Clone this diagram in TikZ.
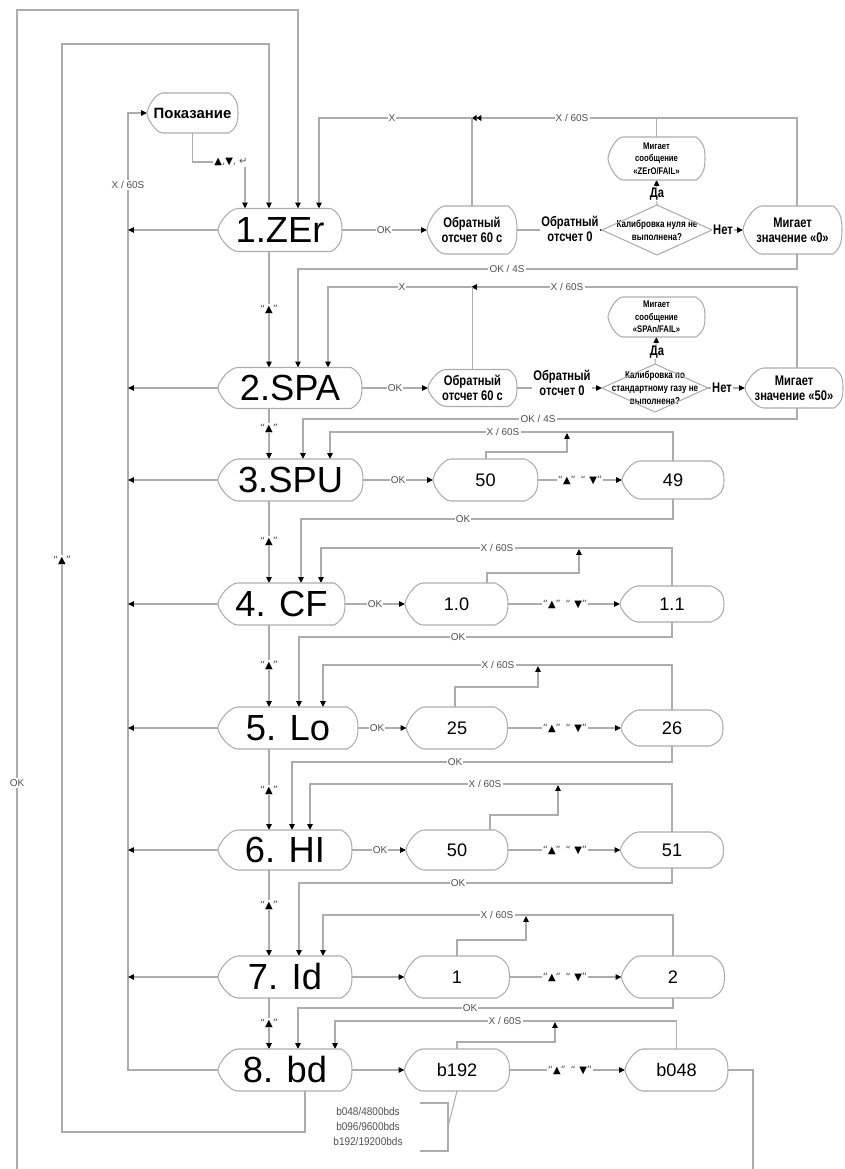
\documentclass[tikz,border=0pt]{standalone}
\usepackage{fontspec}
\setmainfont{Liberation Sans}
\newfontfamily\nb{Liberation Sans}[FakeStretch=0.8]
\newfontfamily\nr{Liberation Sans}[FakeStretch=0.9]
\newfontfamily\sym{DejaVu Sans}
\usetikzlibrary{arrows.meta,calc}
\definecolor{lc}{RGB}{172,172,172}
\definecolor{lt}{RGB}{80,80,80}
\newcommand\shp[5]{%
 \draw[shpl, shift={(#1.center)}]
  ({-#2/2+#4},{-#3/2}) -- ({#2/2-#5},{-#3/2})
  .. controls ({#2/2-0.3*#5},{-0.4*#3}) and ({#2/2},{-0.28*#3}) .. ({#2/2},0)
  .. controls ({#2/2},{0.28*#3}) and ({#2/2-0.3*#5},{0.4*#3}) .. ({#2/2-#5},{#3/2})
  -- ({-#2/2+#4},{#3/2})
  .. controls ({-#2/2+0.55*#4},{#3/2}) and ({-#2/2},{0.14*#3}) .. ({-#2/2},0)
  .. controls ({-#2/2},{-0.14*#3}) and ({-#2/2+0.55*#4},{-#3/2}) .. cycle;}
\newcommand\tri{{\color{lt}“}▲{\color{lt}”}}
\newcommand\updown{{\color{lt}“}▲{\color{lt}”\hspace{4pt}“}\hspace{3pt}▼{\color{lt}”}}
\begin{document}
\begin{tikzpicture}[
 x=0.3mm, y=-0.3mm,
 ln/.style={draw=lc, line width=0.9pt},
 shpl/.style={draw=lc, line width=0.9pt},
 arr/.style={-{Triangle[length=5pt,width=4.6pt,color=black]}},
 arrd/.style={-{Triangle[length=4pt,width=5pt,color=black]Triangle[length=4pt,width=5pt,color=black]}},
 wh/.style 2 args={minimum width=#1*0.3mm, minimum height=#2*0.3mm},
 box/.style={draw=none, inner sep=0pt, outer sep=0pt, align=center},
 mainbox/.style={box, font=\fontsize{31}{31}\selectfont},
 valbox/.style={box, font=\fontsize{15.5}{15.5}\selectfont},
 obox/.style={box, font=\nb\bfseries\fontsize{11.9}{13}\selectfont},
 mbox/.style={box, font=\nb\bfseries\fontsize{8.2}{10.8}\selectfont},
 dbox/.style={box, font=\nb\bfseries\fontsize{8.6}{11}\selectfont},
 pbox/.style={box, font=\bfseries\fontsize{12.7}{13}\selectfont},
 lab/.style={fill=white, inner sep=1pt, text=lt, font=\fontsize{8.5}{8.5}\selectfont},
 blab/.style={fill=white, inner sep=1pt, align=center, font=\nb\bfseries\fontsize{11.9}{13}\selectfont},
 tlab/.style={fill=white, inner sep=1pt, font=\sym\fontsize{8.5}{8.5}\selectfont},
 baud/.style={align=center, inner sep=0pt, text=lt, font=\nr\fontsize{9.5}{12.8}\selectfont}
]
\useasboundingbox (0,0) rectangle (844,1169);

% ---------- main nodes
\node[mainbox, wh={124}{43}] (zer) at (280,230) {1.ZEr};
\node[mainbox, wh={144}{41}] (spa) at (290,388) {2.SPA};
\node[mainbox, wh={145}{42}] (spu) at (290.5,480) {3.SPU};
\node[mainbox, wh={127}{42}] (cf) at (281.5,604) {4. CF};
\node[mainbox, wh={140}{42}] (lo) at (288,728) {5. Lo};
\node[mainbox, wh={134}{40}] (hi) at (285,850) {6. HI};
\node[mainbox, wh={134}{42}] (id) at (285,977) {7. Id};
\node[mainbox, wh={134}{42}] (bd) at (285,1070) {8. bd};

% ---------- value nodes
\node[valbox, wh={105}{42}] (v3a) at (485.5,480) {50};
\node[valbox, wh={102}{38}] (v3b) at (673,480) {49};
\node[valbox, wh={103}{42}] (v4a) at (456.5,604) {1.0};
\node[valbox, wh={104}{36}] (v4b) at (672,604) {1.1};
\node[valbox, wh={101}{42}] (v5a) at (457,728) {25};
\node[valbox, wh={102}{36}] (v5b) at (672,728) {26};
\node[valbox, wh={102}{40}] (v6a) at (457,850) {50};
\node[valbox, wh={103}{36}] (v6b) at (672,850) {51};
\node[valbox, wh={105}{42}] (v7a) at (457,977) {1};
\node[valbox, wh={103}{42}] (v7b) at (673,977) {2};
\node[valbox, wh={105}{42}] (v8a) at (457,1070) {b192};
\node[valbox, wh={103}{42}] (v8b) at (676.5,1070) {b048};

% ---------- top rows
\node[pbox, wh={91}{40}] (pok) at (192.5,113) {Показание};
\node[obox, wh={90}{48}] (ob1) at (472,230) {Обратный\\отсчет 60 с};
\node[dbox, wh={110}{50}] (d1) at (657,230) {Калибровка нуля не\\выполнена?};
\node[mbox, wh={97}{43}] (m1) at (656.5,158.5) {Мигает\\сообщение\\«ZErO/FAIL»};
\node[obox, wh={99}{48}] (f1) at (792.5,230) {Мигает\\значение «0»};

\node[obox, wh={89}{37}] (ob2) at (472.5,388) {Обратный\\отсчет 60 с};
\node[dbox, wh={106}{48}] (d2) at (655,388) {Калибровка по\\стандартному газу не\\выполнена?};
\node[mbox, wh={97}{40}] (m2) at (656.5,317) {Мигает\\сообщение\\«SPAn/FAIL»};
\node[obox, wh={98}{40}] (f2) at (794,388) {Мигает\\значение «50»};

\node[baud] (bds) at (368,1127) {b048/4800bds\\b096/9600bds\\b192/19200bds};

% ---------- free ends
\coordinate (bl) at (17,1169);
\coordinate (br) at (753,1169);
\coordinate (j1) at (472,118);
\coordinate (j2) at (471,287);
\coordinate (u3) at (567,433);
\coordinate (u4) at (579,549);
\coordinate (u5) at (538,666);
\coordinate (u6) at (558,785);
\coordinate (u7) at (526,916);
\coordinate (u8) at (555,1022);

% ---------- outer loops
\draw[ln,arr] (bl) -- (17,10) -- (298,10) -- (zer.north -| 298,0);
\draw[ln] (v8b.east) -| (br);
\draw[ln,arr] (bd.south -| 305,0) -- (305,1132) -- (62,1132) -- (62,44) -- (269,44) -- (zer.north -| 269,0);
\draw[ln,arr] (bd.west) -| (128,113) -- (pok.west);
\foreach \n in {zer,spa,spu,cf,lo,hi,id} \draw[ln,arr] (\n.west) -- (\n.west -| 128,0);
\draw[ln,arr] (pok.south) |- (245,162) -- (zer.north -| 245,0);

% ---------- main chain
\foreach \a/\b in {zer/spa,spa/spu,spu/cf,cf/lo,lo/hi,hi/id,id/bd}
  \draw[ln,arr] (\a.south -| 269,0) -- (\b.north -| 269,0);

% ---------- row 1
\draw[ln,arr] (zer.east) -- (ob1.west);
\draw[ln,arr] (ob1.east) -- (d1.west);
\draw[ln,arr] (d1.east) -- (f1.west);
\draw[ln,arr] (d1.north) -- (m1.south);
\draw[ln,arrd] (f1.north -| 797,0) |- (j1);
\draw[ln] (ob1.north) -- (ob1.north |- j1);
\draw[ln] (m1.north) -- (m1.north |- j1);
\draw[ln,arr] (j1) -| (zer.north -| 319,0);
\draw[ln,arr] (f1.south -| 797,0) |- (298,269) -- (spa.north -| 298,0);

% ---------- row 2
\draw[ln,arr] (spa.east) -- (ob2.west);
\draw[ln,arr] (ob2.east) -- (d2.west);
\draw[ln,arr] (d2.east) -- (f2.west);
\draw[ln,arr] (d2.north) -- (m2.south);
\draw[ln,arr] (f2.north -| 797,0) |- (j2);
\draw[ln] (ob2.north) -- (ob2.north |- j2);
\draw[ln,arr] (j2) -| (spa.north -| 328,0);
\draw[ln,arr] (f2.south -| 797,0) |- (303,419) -- (spu.north -| 303,0);

% ---------- row 3
\draw[ln,arr] (spu.east) -- (v3a.west);
\draw[ln,arr] (v3a.east) -- (v3b.west);
\draw[ln,arr] (v3a.north -| 486,0) |- (567,452) -- (u3);
\draw[ln,arr] (v3b.north) |- (330,432) -- (spu.north -| 330,0);
\draw[ln,arr] (v3b.south) |- (301,519) -- (cf.north -| 301,0);

% ---------- row 4
\draw[ln,arr] (cf.east) -- (v4a.west);
\draw[ln,arr] (v4a.east) -- (v4b.west);
\draw[ln,arr] (v4a.north -| 487,0) |- (579,573) -- (u4);
\draw[ln,arr] (v4b.north) |- (321,548) -- (cf.north -| 321,0);
\draw[ln,arr] (v4b.south) |- (299,637) -- (lo.north -| 299,0);

% ---------- row 5
\draw[ln,arr] (lo.east) -- (v5a.west);
\draw[ln,arr] (v5a.east) -- (v5b.west);
\draw[ln,arr] (v5a.north -| 455,0) |- (538,687) -- (u5);
\draw[ln,arr] (v5b.north) |- (323,665) -- (lo.north -| 323,0);
\draw[ln,arr] (v5b.south) |- (292,762) -- (hi.north -| 292,0);

% ---------- row 6
\draw[ln,arr] (hi.east) -- (v6a.west);
\draw[ln,arr] (v6a.east) -- (v6b.west);
\draw[ln,arr] (v6a.north -| 490,0) |- (558,815) -- (u6);
\draw[ln,arr] (v6b.north) |- (310,784) -- (hi.north -| 310,0);
\draw[ln,arr] (v6b.south) |- (299,883) -- (id.north -| 299,0);

% ---------- row 7
\draw[ln,arr] (id.east) -- (v7a.west);
\draw[ln,arr] (v7a.east) -- (v7b.west);
\draw[ln,arr] (v7a.north) |- (526,940) -- (u7);
\draw[ln,arr] (v7b.north) |- (323,915) -- (id.north -| 323,0);
\draw[ln,arr] (v7b.south) |- (298,1008) -- (bd.north -| 298,0);

% ---------- row 8
\draw[ln,arr] (bd.east) -- (v8a.west);
\draw[ln,arr] (v8a.east) -- (v8b.west);
\draw[ln,arr] (v8a.north) |- (555,1042) -- (u8);
\draw[ln,arr] (v8b.north) |- (335,1021) -- (bd.north -| 335,0);
\draw[ln] (v8a.south) -- (448,1127);
\draw[ln] (420,1103) -| (448,1151) -- (420,1151);

% ---------- outlines
\shp{zer}{124}{43}{20}{11}
\shp{spa}{144}{41}{20}{11}
\shp{spu}{145}{42}{20}{11}
\shp{cf}{127}{42}{20}{11}
\shp{lo}{140}{42}{20}{11}
\shp{hi}{134}{40}{20}{11}
\shp{id}{134}{42}{20}{11}
\shp{bd}{134}{42}{20}{11}
\shp{v3a}{105}{42}{18}{13}
\shp{v3b}{102}{38}{18}{13}
\shp{v4a}{103}{42}{18}{13}
\shp{v4b}{104}{36}{18}{13}
\shp{v5a}{101}{42}{18}{13}
\shp{v5b}{102}{36}{18}{13}
\shp{v6a}{102}{40}{18}{13}
\shp{v6b}{103}{36}{18}{13}
\shp{v7a}{105}{42}{18}{13}
\shp{v7b}{103}{42}{18}{13}
\shp{v8a}{105}{42}{18}{13}
\shp{v8b}{103}{42}{18}{13}
\shp{pok}{91}{40}{16}{9}
\shp{ob1}{90}{48}{18}{9}
\shp{ob2}{89}{37}{18}{9}
\shp{m1}{97}{43}{15}{9}
\shp{m2}{97}{40}{15}{9}
\shp{f1}{99}{48}{19}{9}
\shp{f2}{98}{40}{19}{9}
\draw[shpl] (d1.north) -- (d1.east) -- (d1.south) -- (d1.west) -- cycle;
\draw[shpl] (d2.north) -- (d2.east) -- (d2.south) -- (d2.west) -- cycle;

% ---------- labels
\node[lab] at (17,783) {OK};
\node[tlab] at (62,560) {\tri};
\node[lab] at (128,185) {X / 60S};
\node[tlab, anchor=east] at (249,162) {▲{\color{lt},}▼{\color{lt}, ↵}};
\foreach \y in {309,428,541,665,790,905,1023} \node[tlab] at (269,\y) {\tri};

\node[lab] at (384,230) {OK};
\node[blab] at (570,229) {Обратный\\отсчет 0};
\node[blab] at (723,230) {Нет};
\node[blab] at (657,194) {Да};
\node[lab] at (572,118) {X / 60S};
\node[lab] at (392,118) {X};
\node[lab] at (507,269) {OK / 4S};

\node[lab] at (395,388) {OK};
\node[blab] at (562,383) {Обратный\\отсчет 0};
\node[blab] at (722,388) {Нет};
\node[blab] at (657,352) {Да};
\node[lab] at (567,287) {X / 60S};
\node[lab] at (402,287) {X};
\node[lab] at (538,419) {OK / 4S};

\node[lab] at (398,480) {OK};
\node[tlab] at (580,480) {\updown};
\node[lab] at (503,432) {X / 60S};
\node[lab] at (463,519) {OK};

\node[lab] at (375,604) {OK};
\node[tlab] at (565,604) {\updown};
\node[lab] at (497,548) {X / 60S};
\node[lab] at (458,637) {OK};

\node[lab] at (377,728) {OK};
\node[tlab] at (565,728) {\updown};
\node[lab] at (498,665) {X / 60S};
\node[lab] at (455,762) {OK};

\node[lab] at (380,850) {OK};
\node[tlab] at (565,850) {\updown};
\node[lab] at (485,784) {X / 60S};
\node[lab] at (458,883) {OK};

\node[tlab] at (565,977) {\updown};
\node[lab] at (497,915) {X / 60S};
\node[lab] at (470,1008) {OK};

\node[tlab] at (570,1070) {\updown};
\node[lab] at (505,1021) {X / 60S};
\end{tikzpicture}
\end{document}
